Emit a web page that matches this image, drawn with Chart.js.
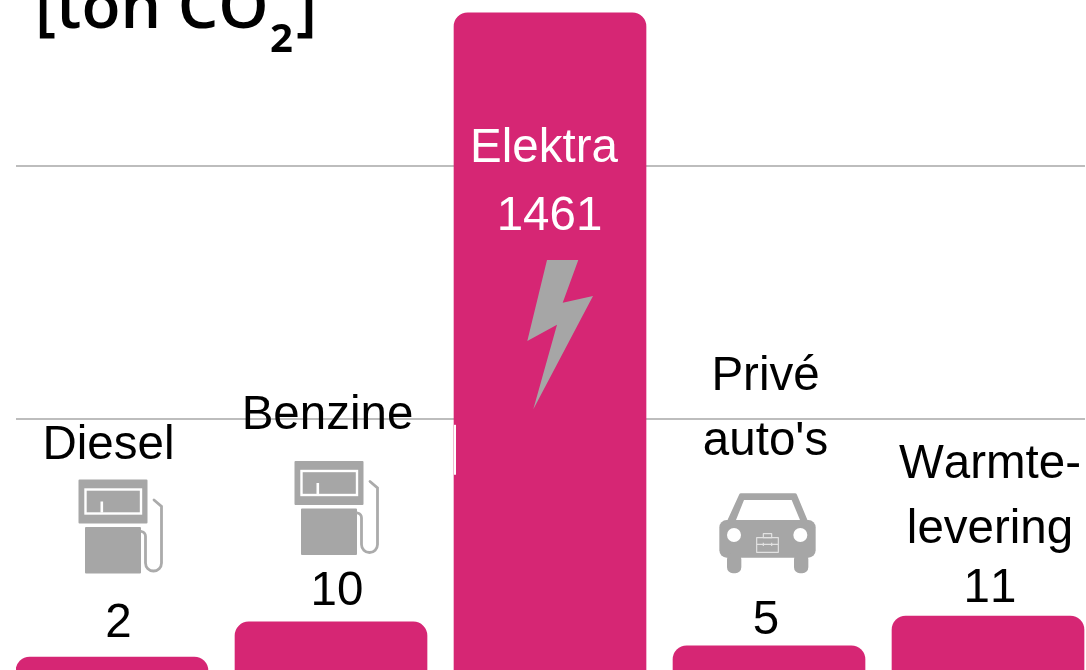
<!DOCTYPE html>
<html>
<head>
<meta charset="utf-8">
<title>CO2 per bron</title>
<script src="https://cdn.jsdelivr.net/npm/chart.js@4/dist/chart.umd.js"></script>
<style>
  html, body { margin: 0; padding: 0; background: #fff; overflow: hidden; }
  #wrap { width: 1086px; height: 720px; }
</style>
</head>
<body>
<div id="wrap"><canvas id="co2-chart"></canvas></div>
<script>
// values in ton CO2, the labels show them rounded
const categories = ["Diesel", "Benzine", "Elektra", "Privé auto's", "Warmtelevering"];
const co2Values = [2.2, 10, 1461, 4.7, 11.3];
const nameLines = [["Diesel"], ["Benzine"], ["Elektra"], ["Privé", "auto's"], ["Warmte-", "levering"]];
const gridValues = [55.1, 111.3];

// y axis is cut: everything above breakValue gets squeezed
const breakValue = 120;
const breakFactor = 0.0189;
const yMin = -11.8;
const yMax = 148.2;

// label offsets from the top centre of each bar
const nameDx = [-3.5, -3.5, -6, -3.5, 2];
const nameRise = [198, 193, -149, 256, 138];
const valueDx = [6.5, 6, -0.5, -3, 2];
const valueRise = [20, 17, -217, 12, 14];
const lineGap = 65;

const PINK = "#D62674";
const GREY = "#A6A6A6";

class BrokenScale extends Chart.LinearScale {
  getPixelForValue(value) {
    const v = value > breakValue ? breakValue + (value - breakValue) * breakFactor : value;
    return super.getPixelForValue(v);
  }
}
BrokenScale.id = "broken";
BrokenScale.defaults = Chart.LinearScale.defaults;
Chart.register(BrokenScale);

function drawPump(ctx, x, y) {
  ctx.save();
  ctx.translate(x, y);
  ctx.fillStyle = GREY;
  ctx.beginPath();
  ctx.roundRect(0, 0, 69, 44, 1);
  ctx.roundRect(6.5, 47.5, 56, 46.5, 1);
  ctx.fill();
  ctx.strokeStyle = "#fff";
  ctx.lineWidth = 2.4;
  ctx.strokeRect(7, 10, 55.5, 24);
  ctx.fillStyle = "#fff";
  ctx.fillRect(22, 22, 2.6, 11);
  // hose
  ctx.strokeStyle = "#ababab";
  ctx.lineWidth = 2.8;
  ctx.lineCap = "round";
  ctx.beginPath();
  ctx.moveTo(75.5, 20.5);
  ctx.lineTo(83, 27);
  ctx.lineTo(83, 83.5);
  ctx.arc(75, 83.5, 8, 0, Math.PI);
  ctx.lineTo(67, 57);
  ctx.quadraticCurveTo(67, 53, 63, 52);
  ctx.stroke();
  ctx.restore();
}

function drawBolt(ctx) {
  const pts = [[547, 260], [578.3, 260], [562.7, 302.7], [593, 296], [533.3, 409.3], [557, 324.7], [527.3, 341]];
  ctx.fillStyle = GREY;
  ctx.beginPath();
  pts.forEach((p, i) => (i ? ctx.lineTo(p[0], p[1]) : ctx.moveTo(p[0], p[1])));
  ctx.closePath();
  ctx.fill();
}

function drawCar(ctx) {
  ctx.save();
  ctx.translate(660, 470);
  ctx.scale(1 / 3, 1 / 3);
  ctx.fillStyle = GREY;
  ctx.beginPath();
  ctx.moveTo(243, 76);
  ctx.lineTo(405, 76);
  ctx.lineTo(438, 155);
  ctx.lineTo(207, 155);
  ctx.closePath();
  ctx.lineJoin = "round";
  ctx.strokeStyle = GREY;
  ctx.lineWidth = 12;
  ctx.fill();
  ctx.stroke();
  ctx.beginPath();
  ctx.roundRect(178, 150, 289, 113, 22);
  ctx.fill();
  ctx.beginPath();
  ctx.roundRect(201, 250, 43, 60, 18);
  ctx.roundRect(402, 250, 43, 60, 18);
  ctx.fill();
  ctx.fillStyle = "#fff";
  ctx.beginPath();
  ctx.moveTo(252, 90);
  ctx.lineTo(395, 90);
  ctx.lineTo(420, 150);
  ctx.lineTo(228, 150);
  ctx.closePath();
  ctx.fill();
  ctx.beginPath();
  ctx.arc(222, 195, 21, 0, Math.PI * 2);
  ctx.arc(421, 195, 21, 0, Math.PI * 2);
  ctx.fill();
  // briefcase on the hood
  ctx.strokeStyle = "#e2e2e2";
  ctx.lineWidth = 3.5;
  ctx.strokeRect(290, 203, 65, 44);
  ctx.strokeRect(310, 191, 25, 12);
  ctx.beginPath();
  ctx.moveTo(290, 223);
  ctx.lineTo(355, 223);
  ctx.moveTo(310, 218);
  ctx.lineTo(310, 228);
  ctx.moveTo(335, 218);
  ctx.lineTo(335, 228);
  ctx.stroke();
  ctx.restore();
}

const annotations = {
  id: "annotations",
  afterDatasetsDraw(chart) {
    const ctx = chart.ctx;
    const bars = chart.getDatasetMeta(0).data;
    const y = chart.scales.y;

    // white nick in the Elektra bar where the axis is cut
    const nickTop = y.getPixelForValue(53.8);
    const nickBottom = y.getPixelForValue(42.7);
    ctx.fillStyle = "#fff";
    ctx.fillRect(bars[2].x - 96, nickTop, 2, nickBottom - nickTop);

    drawPump(ctx, 78.5, 479.5);
    drawPump(ctx, 294.5, 461);
    drawBolt(ctx);
    drawCar(ctx);

    ctx.font = '47.5px "Liberation Sans"';
    ctx.fontKerning = "none";
    ctx.textAlign = "center";
    ctx.textBaseline = "alphabetic";
    bars.forEach((bar, i) => {
      ctx.fillStyle = i === 2 ? "#fff" : "#000";
      nameLines[i].forEach((line, n) => {
        ctx.fillText(line, bar.x + nameDx[i], bar.y - nameRise[i] + n * lineGap);
      });
      ctx.fillText(String(Math.round(co2Values[i])), bar.x + valueDx[i], bar.y - valueRise[i]);
    });

    // unit title, cut off by the top of the page
    ctx.fillStyle = "#000";
    ctx.textAlign = "left";
    ctx.font = '600 64px "Open Sans"';
    ctx.fillText("[ton CO", 35, 28);
    ctx.fillText("]", 296, 28);
    ctx.font = '700 40px "Open Sans"';
    ctx.fillText("2", 270, 52);
  },
};

new Chart(document.getElementById("co2-chart"), {
  type: "bar",
  data: {
    labels: categories,
    datasets: [
      {
        data: co2Values.map((v, i) => ({ x: i, y: v })),
        backgroundColor: PINK,
        base: yMin,
        barThickness: 192,
        borderRadius: { topLeft: 14, topRight: 14, bottomLeft: 0, bottomRight: 0 },
        borderSkipped: false,
      },
    ],
  },
  options: {
    responsive: true,
    maintainAspectRatio: false,
    animation: false,
    layout: { padding: { left: 16, right: 1, top: 0, bottom: 0 } },
    plugins: { legend: { display: false }, tooltip: { enabled: false } },
    scales: {
      x: { type: "linear", display: false, offset: false, min: -0.4384, max: 4.4429 },
      y: {
        type: "broken",
        min: yMin,
        max: yMax,
        afterBuildTicks: (scale) => {
          scale.ticks = gridValues.map((v) => ({ value: v }));
        },
        border: { display: false },
        grid: { color: "#BDBDBD", lineWidth: 2, drawTicks: false },
        ticks: { display: false },
      },
    },
  },
  plugins: [annotations],
});
</script>
</body>
</html>
